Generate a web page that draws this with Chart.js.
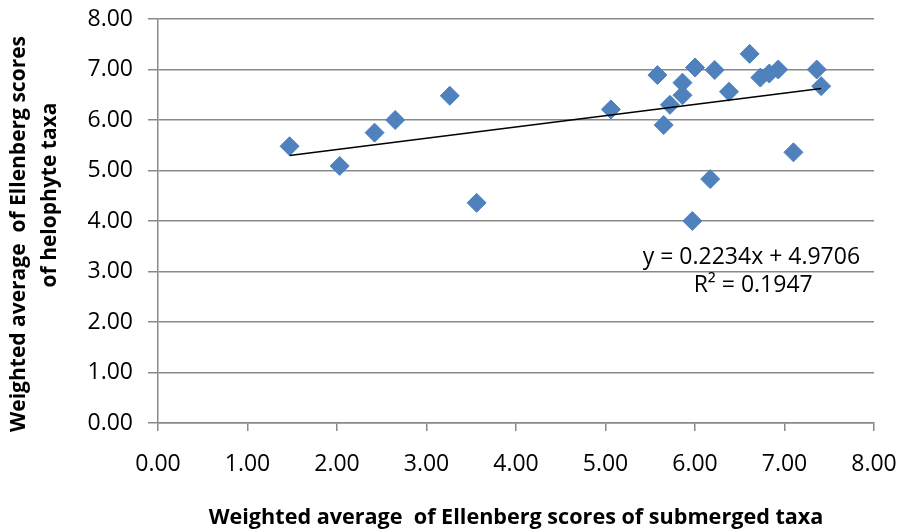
<!DOCTYPE html>
<html>
<head>
<meta charset="utf-8">
<script src="https://cdn.jsdelivr.net/npm/chart.js@4/dist/chart.umd.min.js"></script>
<style>
  html, body { margin: 0; padding: 0; background: #fff; }
  #wrap { width: 901px; height: 532px; }
</style>
</head>
<body>
<div id="wrap"><canvas id="scatterChart" width="901" height="532"></canvas></div>
<script>
// Data
const submergedScores = [1.47, 2.03, 2.42, 2.65, 3.26, 3.56, 5.06, 5.58, 5.65, 5.72, 5.86, 5.86,
  6.00, 6.22, 6.38, 6.61, 6.73, 6.83, 6.93, 7.36, 7.41, 7.10, 6.17, 5.97];
const helophyteScores = [5.48, 5.09, 5.75, 6.00, 6.48, 4.36, 6.21, 6.89, 5.90, 6.30, 6.49, 6.74,
  7.04, 6.99, 6.56, 7.31, 6.84, 6.92, 7.00, 7.00, 6.67, 5.36, 4.83, 4.00];
const axisTicks = [0, 1, 2, 3, 4, 5, 6, 7, 8];

// Trendline as reported in the chart
const trendSlope = 0.2234;
const trendIntercept = 4.9706;
const trendLabel = "y = 0.2234x + 4.9706";
const r2Label = "R\u00b2 = 0.1947";

const xTitle = "Weighted average  of Ellenberg scores of submerged taxa";
const yTitleLines = ["Weighted average  of Ellenberg scores", "of helophyte taxa"];

const FONT = "'Open Sans', Carlito, Calibri, sans-serif";
const GRID = "#898989";

function initScatterChart() {
  const ctx = document.getElementById("scatterChart");

  const points = submergedScores.map((x, i) => ({ x: x, y: helophyteScores[i] }));
  const xMin = Math.min(...submergedScores);
  const xMax = Math.max(...submergedScores);
  const trendPoints = [
    { x: xMin, y: trendSlope * xMin + trendIntercept },
    { x: xMax, y: trendSlope * xMax + trendIntercept },
  ];

  // equation + R² next to the trendline, and the two-line y title
  const textPlugin = {
    id: "extraText",
    afterDraw(chart) {
      const c = chart.ctx;
      const xs = chart.scales.x;
      const ys = chart.scales.y;
      c.save();
      c.fillStyle = "#000";
      c.font = "23px " + FONT;
      c.textAlign = "center";
      c.textBaseline = "middle";
      c.fillText(trendLabel, xs.getPixelForValue(6.63), ys.getPixelForValue(3.28));
      c.fillText(r2Label, xs.getPixelForValue(6.65), ys.getPixelForValue(2.73));

      // y axis title, rotated
      c.font = "bold 21px " + FONT;
      c.translate(19, 234);
      c.rotate(-Math.PI / 2);
      c.fillText(yTitleLines[0], 0, 0);
      c.fillText(yTitleLines[1], 234 - 195, 31);
      c.restore();
    },
  };

  new Chart(ctx, {
    type: "scatter",
    data: {
      datasets: [
        {
          data: points,
          pointStyle: "rectRot",
          pointRadius: 9.5,
          pointHoverRadius: 9.5,
          backgroundColor: "#4F81BD",
          borderColor: "#4F81BD",
          borderWidth: 1,
          order: 2,
        },
        {
          type: "line",
          data: trendPoints,
          borderColor: "#000",
          borderWidth: 1.5,
          pointRadius: 0,
          fill: false,
          order: 1,
        },
      ],
    },
    options: {
      responsive: false,
      animation: false,
      layout: { padding: { top: 19, right: 27, left: 0, bottom: 0 } },
      plugins: { legend: { display: false }, tooltip: { enabled: false } },
      scales: {
        x: {
          type: "linear",
          min: 0,
          max: 8,
          afterBuildTicks: (s) => { s.ticks = axisTicks.map((v) => ({ value: v })); },
          afterFit: (s) => { s.height = 109; s.paddingLeft = 0; s.paddingRight = 0; },
          grid: { drawOnChartArea: false, drawTicks: true, tickLength: 8, color: GRID, lineWidth: 1.5 },
          border: { display: true, color: GRID, width: 1.5 },
          ticks: {
            padding: 20,
            color: "#000",
            font: { family: FONT, size: 23 },
            callback: (v) => v.toFixed(2),
          },
          title: {
            display: true,
            text: xTitle,
            color: "#000",
            font: { family: FONT, size: 21.6, weight: "bold" },
            padding: { top: 0, bottom: 1 },
          },
        },
        y: {
          type: "linear",
          min: 0,
          max: 8,
          afterBuildTicks: (s) => { s.ticks = axisTicks.map((v) => ({ value: v })); },
          afterFit: (s) => { s.width = 158; s.paddingTop = 0; s.paddingBottom = 0; },
          grid: { drawOnChartArea: true, drawTicks: true, tickLength: 10, color: GRID, lineWidth: 1.5 },
          border: { display: true, color: GRID, width: 1.5 },
          ticks: {
            padding: 15,
            color: "#000",
            font: { family: FONT, size: 23 },
            callback: (v) => v.toFixed(2),
          },
        },
      },
    },
    plugins: [textPlugin],
  });
}

document.addEventListener("DOMContentLoaded", function () {
  initScatterChart();
});
</script>
</body>
</html>
